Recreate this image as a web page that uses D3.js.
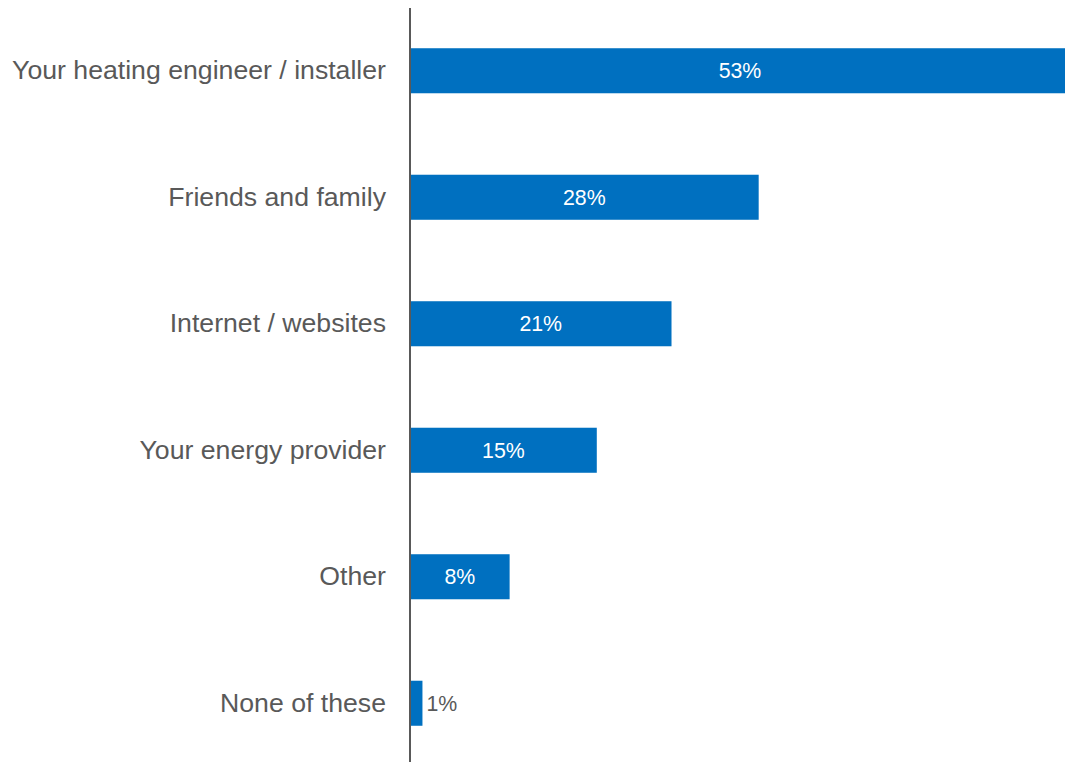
<!DOCTYPE html>
<html>
<head>
<meta charset="utf-8">
<script src="https://cdn.jsdelivr.net/npm/d3@7"></script>
<style>
  html, body { margin: 0; padding: 0; background: #fff; }
  svg { display: block; }
</style>
</head>
<body>
<svg id="chart" width="1065" height="762"></svg>
<script>
// Sources of information, share of respondents (%)
const categories = [
  "Your heating engineer / installer",
  "Friends and family",
  "Internet / websites",
  "Your energy provider",
  "Other",
  "None of these"
];
const values = [53, 28, 21, 15, 8, 1];

const svg = d3.select("#chart");
const W = 1065, H = 762;
const axisX = 410;
const font = "'Liberation Sans', Arial, sans-serif";

const x = d3.scaleLinear().domain([0, 53]).range([axisX, 1070]);
const y = d3.scaleBand().domain(categories).range([7.5, 766.5])
  .paddingInner(0.644).paddingOuter(0.322);

const rows = categories.map((c, i) => ({ c, v: values[i] }));

// Bars
svg.append("g").selectAll("rect").data(rows).join("rect")
  .attr("x", x(0))
  .attr("y", d => y(d.c))
  .attr("width", d => x(d.v) - x(0))
  .attr("height", y.bandwidth())
  .attr("fill", "#0070C0");

// Value labels: inside the bar when it is wide enough, otherwise just past its end
svg.append("g").selectAll("text").data(rows).join("text")
  .attr("x", d => d.v >= 5 ? (x(0) + x(d.v)) / 2 : x(d.v) + 4)
  .attr("y", d => y(d.c) + y.bandwidth() / 2)
  .attr("dy", "0.35em")
  .attr("text-anchor", d => d.v >= 5 ? "middle" : "start")
  .attr("fill", d => d.v >= 5 ? "#ffffff" : "#595959")
  .style("font-family", font)
  .style("font-size", "21.33px")
  .text(d => d.v + "%");

// Category axis
const axis = d3.axisLeft(y).tickSize(0).tickPadding(24);
const g = svg.append("g").attr("transform", `translate(${axisX},0)`).call(axis);
g.select(".domain").remove();
g.selectAll("text")
  .attr("fill", "#595959")
  .style("font-family", font)
  .style("font-size", "26.67px");

svg.append("line")
  .attr("x1", axisX).attr("x2", axisX)
  .attr("y1", 8).attr("y2", H)
  .attr("stroke", "#595959")
  .attr("stroke-width", 2);
</script>
</body>
</html>
